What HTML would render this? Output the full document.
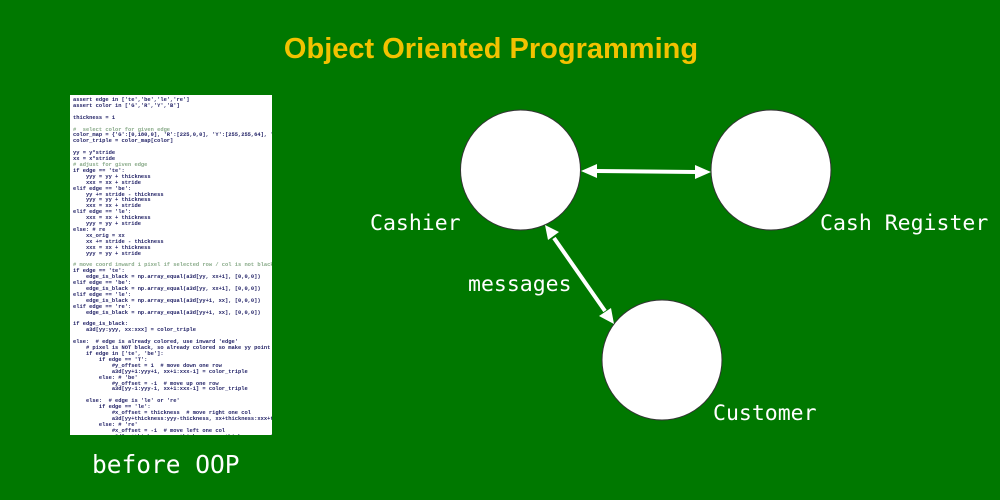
<!DOCTYPE html>
<html><head><meta charset="utf-8"><style>
body{margin:0;width:1000px;height:500px;background:#007800;position:relative;overflow:hidden;font-family:"Liberation Sans",sans-serif}
.t{position:absolute;left:0;width:982px;top:33px;text-align:center;color:#f2c200;font-weight:bold;font-size:29px}
.code{position:absolute;left:70px;top:95px;width:202px;height:340px;background:#fff;overflow:hidden}
.code pre{margin:0;padding:3px 0 0 3px;font-family:"Liberation Mono",monospace;font-size:5.4px;line-height:5.9px;color:#226;font-weight:bold}
.lbl{position:absolute;color:#fff;font-family:"DejaVu Sans Mono","Liberation Mono",monospace;font-size:21.5px}
</style></head><body>
<div class="t">Object Oriented Programming</div>
<div class="code"><pre>assert edge in ['te','be','le','re']
assert color in ['G','R','Y','B']

thickness = 1

<span style="color:#8a8">#  select color for given edge</span>
color_map = {'G':[0,180,0], 'R':[225,0,0], 'Y':[255,255,64], 'B':[50,175,255]}
color_triple = color_map[color]

yy = y*stride
xx = x*stride
<span style="color:#8a8"># adjust for given edge</span>
if edge == 'te':
    yyy = yy + thickness
    xxx = xx + stride
elif edge == 'be':
    yy += stride - thickness
    yyy = yy + thickness
    xxx = xx + stride
elif edge == 'le':
    xxx = xx + thickness
    yyy = yy + stride
else: # re
    xx_orig = xx
    xx += stride - thickness
    xxx = xx + thickness
    yyy = yy + stride

<span style="color:#8a8"># move coord inward 1 pixel if selected row / col is not black</span>
if edge == 'te':
    edge_is_black = np.array_equal(a3d[yy, xx+1], [0,0,0])
elif edge == 'be':
    edge_is_black = np.array_equal(a3d[yy, xx+1], [0,0,0])
elif edge == 'le':
    edge_is_black = np.array_equal(a3d[yy+1, xx], [0,0,0])
elif edge == 're':
    edge_is_black = np.array_equal(a3d[yy+1, xx], [0,0,0])

if edge_is_black:
    a3d[yy:yyy, xx:xxx] = color_triple

else:  # edge is already colored, use inward 'edge'
    # pixel is NOT black, so already colored so make yy point to next edge
    if edge in ['te', 'be']:
        if edge == 'T':
            #y_offset = 1  # move down one row
            a3d[yy+1:yyy+1, xx+1:xxx-1] = color_triple
        else: # 'be'
            #y_offset = -1  # move up one row
            a3d[yy-1:yyy-1, xx+1:xxx-1] = color_triple

    else:  # edge is 'le' or 're'
        if edge == 'le':
            #x_offset = thickness  # move right one col
            a3d[yy+thickness:yyy-thickness, xx+thickness:xxx+thickness] = c
        else: # 're'
            #x_offset = -1  # move left one col
            a3d[yy+thickness:yyy-thickness, xx-thickness:xxx-thickness] = c</pre></div>
<div class="lbl" style="left:92px;top:450px;font-size:24.5px">before OOP</div>
<svg style="position:absolute;left:0;top:0" width="1000" height="500">
<circle cx="520.5" cy="170" r="60" fill="#fff" stroke="#333" stroke-width="1"/>
<circle cx="771" cy="170" r="60" fill="#fff" stroke="#333" stroke-width="1"/>
<circle cx="662" cy="360" r="60" fill="#fff" stroke="#333" stroke-width="1"/>
<g stroke="#fff" stroke-width="4">
<line x1="596" y1="171" x2="696" y2="172"/>
<line x1="554" y1="238" x2="605" y2="311"/>
</g>
<g fill="#fff">
<path d="M581,171 L597,164 L597,178z"/>
<path d="M711,172 L695,165 L695,179z"/>
<path d="M545,225 L559,232 L548,240z"/>
<path d="M614,324 L599,316 L611,308z"/>
</g>
</svg>
<div class="lbl" style="left:370px;top:211px">Cashier</div>
<div class="lbl" style="left:820px;top:211px">Cash Register</div>
<div class="lbl" style="left:468px;top:272px">messages</div>
<div class="lbl" style="left:713px;top:401px">Customer</div>
</body></html>
